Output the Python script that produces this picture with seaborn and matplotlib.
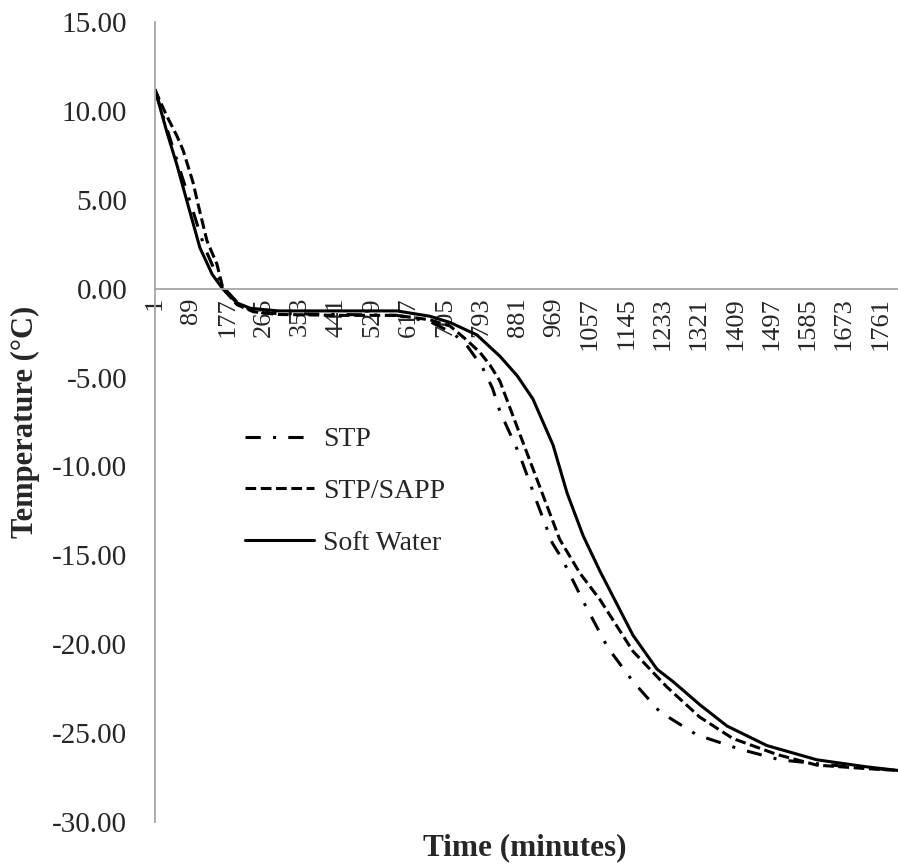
import numpy as np
import pandas as pd
import matplotlib.pyplot as plt
import seaborn as sns

# minutos y temperaturas (cada serie con sus propios puntos)
min_stp = [1, 30, 60, 90, 120, 150, 170, 210, 260, 300, 450, 588, 668, 724, 758, 795, 820, 838,
           885, 926, 965, 989, 1045, 1100, 1161, 1226, 1316, 1420, 1517, 1640, 1804]
temp_stp = [11.2, 9.0, 6.8, 4.6, 2.4, 0.8, 0.0, -1.0, -1.35, -1.4, -1.45, -1.5, -1.85, -2.5, -3.2, -4.4, -5.6, -6.9,
            -9.3, -11.9, -14.3, -15.2, -17.8, -20.2, -22.1, -23.8, -25.1, -25.9, -26.5, -26.8, -27.1]

min_sapp = [1, 18, 30, 54, 69, 93, 105, 127, 151, 166, 200, 240, 300, 450, 588, 668, 717, 758, 790, 814, 838,
            885, 934, 983, 1032, 1081, 1161, 1243, 1323, 1403, 1510, 1607, 1729, 1804]
temp_sapp = [11.2, 10.3, 9.7, 8.6, 7.8, 6.0, 4.8, 2.7, 1.4, 0.0, -0.9, -1.3, -1.45, -1.5, -1.5, -1.75, -2.1, -2.9, -3.6, -4.3, -5.2,
             -8.1, -11.1, -14.1, -16.0, -17.5, -20.4, -22.4, -24.1, -25.3, -26.2, -26.8, -27.0, -27.1]

min_agua = [1, 30, 55, 80, 110, 140, 165, 200, 232, 300, 450, 588, 668, 717, 782, 838, 880,
            918, 967, 1001, 1040, 1081, 1161, 1219, 1258, 1323, 1389, 1486, 1607, 1729, 1804]
temp_agua = [11.2, 8.8, 6.9, 4.8, 2.3, 0.8, 0.0, -0.8, -1.1, -1.25, -1.25, -1.25, -1.55, -1.9, -2.6, -3.8, -4.9,
             -6.2, -8.8, -11.5, -13.9, -15.9, -19.5, -21.4, -22.1, -23.4, -24.6, -25.7, -26.5, -26.9, -27.1]

series = ['STP', 'STP/SAPP', 'Soft Water']
etiquetas_x = list(range(1, 1762, 88))
etiquetas_y = list(range(-30, 16, 5))

df = pd.concat([
    pd.DataFrame({'minuto': min_stp, 'temperatura': temp_stp, 'serie': 'STP'}),
    pd.DataFrame({'minuto': min_sapp, 'temperatura': temp_sapp, 'serie': 'STP/SAPP'}),
    pd.DataFrame({'minuto': min_agua, 'temperatura': temp_agua, 'serie': 'Soft Water'}),
], ignore_index=True)

sns.set_style('white')
plt.rcParams['font.family'] = ['Liberation Serif', 'DejaVu Serif']
plt.rcParams['axes.unicode_minus'] = False

fig = plt.figure(figsize=(8.98, 8.67), dpi=100)
ax = fig.add_axes([0.1726, 0.0519, 0.8274, 0.9227])

sns.lineplot(data=df, x='minuto', y='temperatura', hue='serie', style='serie',
             hue_order=series, style_order=series,
             palette={'STP': 'black', 'STP/SAPP': 'black', 'Soft Water': 'black'},
             dashes={'STP': (5, 4, 1, 4), 'STP/SAPP': (3.5, 1.5), 'Soft Water': ''},
             lw=2.2, estimator=None, sort=True, ax=ax)

ax.set_xlim(1, 1804)
ax.set_ylim(-30, 15)
ax.set_xticks(etiquetas_x)
ax.set_xticklabels([str(v) for v in etiquetas_x])
ax.set_yticks(etiquetas_y)
ax.set_yticklabels([f'{v:.2f}' for v in etiquetas_y])

# eje x cruzando en 0 como en Excel
ax.spines['bottom'].set_position(('data', 0))
for lado in ['top', 'right']:
    ax.spines[lado].set_visible(False)
for lado in ['left', 'bottom']:
    ax.spines[lado].set_color('#a6a6a6')
    ax.spines[lado].set_linewidth(1.3)

ax.tick_params(axis='x', length=0, pad=6, labelrotation=90, labelsize=19)
ax.tick_params(axis='y', length=0, pad=20, labelsize=21)

ax.set_xlabel('Time (minutes)', fontsize=22.5, fontweight='bold')
ax.xaxis.set_label_coords(0.498, -0.014)
ax.set_ylabel('Temperature (°C)', fontsize=22, fontweight='bold')
ax.yaxis.set_label_coords(-0.155, 0.5)

handles, labels = ax.get_legend_handles_labels()
ax.legend(handles, labels, loc='upper left', bbox_to_anchor=(0.121, 0.494),
          frameon=False, fontsize=20, handlelength=2.5, handletextpad=0.3,
          labelspacing=0.95, borderpad=0, borderaxespad=0)

plt.savefig('out.png', dpi=100)
